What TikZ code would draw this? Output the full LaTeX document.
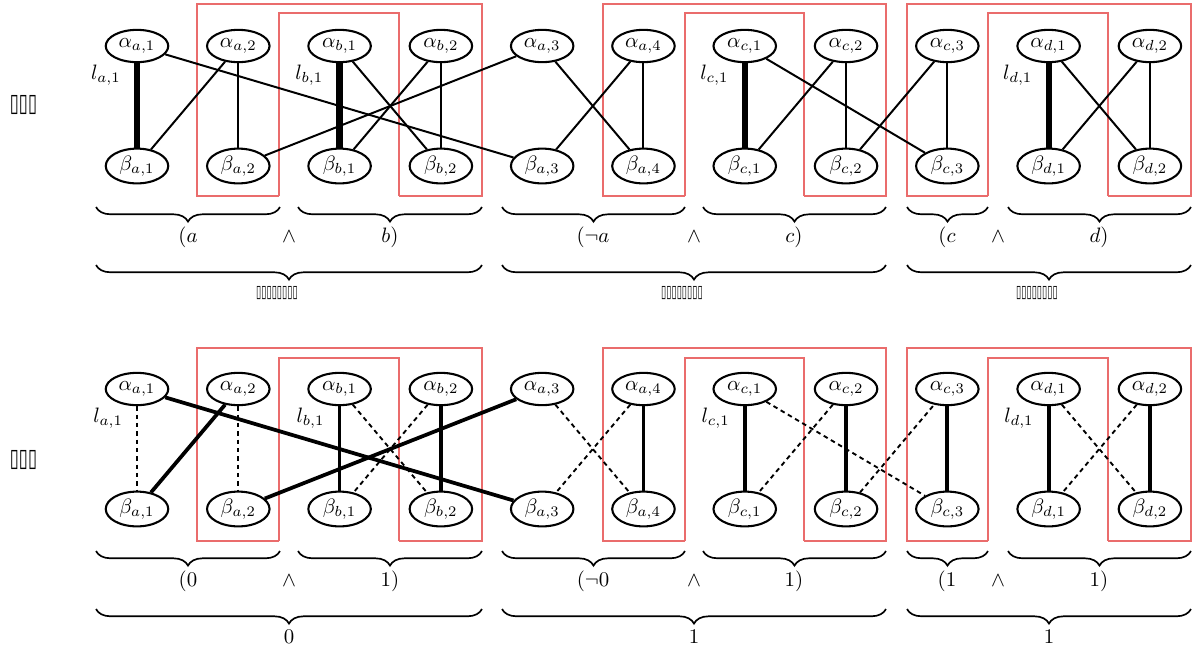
\documentclass[tikz,border=0pt]{standalone}
\usepackage{fontspec}
\usepackage{graphicx}
\usepackage{tikz}
\usetikzlibrary{positioning}
\usetikzlibrary{shapes.geometric,decorations.pathreplacing}
\newfontfamily\tofufont{DejaVu Sans}
\definecolor{gadget}{RGB}{234,108,108}
\tikzset{vertex/.style={draw,line width=1pt,ellipse,minimum width=30pt,minimum height=15.5pt,inner sep=1pt}}
\tikzset{litedge/.style={draw,line width=3pt}}
\tikzset{plain/.style={draw,line width=0.95pt}}
\tikzset{chosen/.style={draw,line width=1.8pt}}
\tikzset{unchosen/.style={draw,line width=0.9pt,dash pattern=on 2.2pt off 1.8pt}}
\tikzset{litlabel/.style={left=3pt,pos=0.14}}
\tikzset{gadgetbox/.style={draw=gadget,line width=1pt}}
\tikzset{brace/.style={draw,thick,decorate,decoration={brace,mirror,amplitude=7pt}}}
\tikzset{bracelabel/.style={anchor=base,inner sep=0pt}}
\begin{document}
\begin{tikzpicture}[x=0.48pt,y=-0.48pt,on grid,node distance=57.6pt and 48.62pt]
    \useasboundingbox (0,0) rectangle (1193,647);

    % row tags
    \node[font=\tofufont] (tag-top) at (23.5,105) {\resizebox{13pt}{7.7pt}{▯▯▯}};
    \node[font=\tofufont] (tag-bot) at (23.5,460) {\resizebox{13pt}{7.7pt}{▯▯▯}};

    % gadget frames, upper row
    \draw[gadgetbox] (279,196) -- (197,196) -- (197,4) -- (482,4) -- (482,196) -- (399,196);
    \draw[gadgetbox] (279,196) -- (279,13) -- (399,13) -- (399,196);
    \draw[gadgetbox] (685,196) -- (603,196) -- (603,4) -- (886,4) -- (886,196) -- (804,196);
    \draw[gadgetbox] (685,196) -- (685,13) -- (804,13) -- (804,196);
    \draw[gadgetbox] (988,196) -- (907,196) -- (907,4) -- (1191,4) -- (1191,196) -- (1108,196);
    \draw[gadgetbox] (988,196) -- (988,13) -- (1108,13) -- (1108,196);
    % gadget frames, lower row
    \draw[gadgetbox] (279,541) -- (197,541) -- (197,348) -- (482,348) -- (482,541) -- (399,541);
    \draw[gadgetbox] (279,541) -- (279,358) -- (399,358) -- (399,541);
    \draw[gadgetbox] (685,541) -- (603,541) -- (603,348) -- (886,348) -- (886,541) -- (804,541);
    \draw[gadgetbox] (685,541) -- (685,358) -- (804,358) -- (804,541);
    \draw[gadgetbox] (988,541) -- (907,541) -- (907,348) -- (1191,348) -- (1191,541) -- (1108,541);
    \draw[gadgetbox] (988,541) -- (988,358) -- (1108,358) -- (1108,541);

    % upper row
    \node[vertex] (ta-a1) at (137,46) {$\alpha_{a,1}$};
    \node[vertex,right=of ta-a1] (ta-a2) {$\alpha_{a,2}$};
    \node[vertex,right=of ta-a2] (ta-b1) {$\alpha_{b,1}$};
    \node[vertex,right=of ta-b1] (ta-b2) {$\alpha_{b,2}$};
    \node[vertex,right=of ta-b2] (ta-a3) {$\alpha_{a,3}$};
    \node[vertex,right=of ta-a3] (ta-a4) {$\alpha_{a,4}$};
    \node[vertex,right=of ta-a4] (ta-c1) {$\alpha_{c,1}$};
    \node[vertex,right=of ta-c1] (ta-c2) {$\alpha_{c,2}$};
    \node[vertex,right=of ta-c2] (ta-c3) {$\alpha_{c,3}$};
    \node[vertex,right=of ta-c3] (ta-d1) {$\alpha_{d,1}$};
    \node[vertex,right=of ta-d1] (ta-d2) {$\alpha_{d,2}$};
    \node[vertex,below=of ta-a1] (tb-a1) {$\beta_{a,1}$};
    \node[vertex,below=of ta-a2] (tb-a2) {$\beta_{a,2}$};
    \node[vertex,below=of ta-b1] (tb-b1) {$\beta_{b,1}$};
    \node[vertex,below=of ta-b2] (tb-b2) {$\beta_{b,2}$};
    \node[vertex,below=of ta-a3] (tb-a3) {$\beta_{a,3}$};
    \node[vertex,below=of ta-a4] (tb-a4) {$\beta_{a,4}$};
    \node[vertex,below=of ta-c1] (tb-c1) {$\beta_{c,1}$};
    \node[vertex,below=of ta-c2] (tb-c2) {$\beta_{c,2}$};
    \node[vertex,below=of ta-c3] (tb-c3) {$\beta_{c,3}$};
    \node[vertex,below=of ta-d1] (tb-d1) {$\beta_{d,1}$};
    \node[vertex,below=of ta-d2] (tb-d2) {$\beta_{d,2}$};

    \path[litedge] (ta-a1) -- node[litlabel] (tl-a1) {$l_{a,1}$} (tb-a1);
    \path[plain] (ta-a2) -- (tb-a1);
    \path[plain] (ta-a2) -- (tb-a2);
    \path[plain] (ta-a1) -- (tb-a3);
    \path[plain] (tb-a2) -- (ta-a3);
    \path[litedge] (ta-b1) -- node[litlabel] (tl-b1) {$l_{b,1}$} (tb-b1);
    \path[plain] (ta-b1) -- (tb-b2);
    \path[plain] (ta-b2) -- (tb-b1);
    \path[plain] (ta-b2) -- (tb-b2);
    \path[plain] (ta-a3) -- (tb-a4);
    \path[plain] (ta-a4) -- (tb-a3);
    \path[plain] (ta-a4) -- (tb-a4);
    \path[litedge] (ta-c1) -- node[litlabel] (tl-c1) {$l_{c,1}$} (tb-c1);
    \path[plain] (ta-c2) -- (tb-c1);
    \path[plain] (ta-c2) -- (tb-c2);
    \path[plain] (ta-c1) -- (tb-c3);
    \path[plain] (tb-c2) -- (ta-c3);
    \path[plain] (ta-c3) -- (tb-c3);
    \path[litedge] (ta-d1) -- node[litlabel] (tl-d1) {$l_{d,1}$} (tb-d1);
    \path[plain] (ta-d1) -- (tb-d2);
    \path[plain] (ta-d2) -- (tb-d1);
    \path[plain] (ta-d2) -- (tb-d2);

    % upper braces
    \draw[brace] (96,207) -- (280,207);
    \draw[brace] (298,207) -- (482,207);
    \draw[brace] (502,207) -- (685,207);
    \draw[brace] (703,207) -- (886,207);
    \draw[brace] (907,207) -- (988,207);
    \draw[brace] (1008,207) -- (1191,207);
    \node[bracelabel] (tx-1) at (188,242) {$(a$};
    \node[bracelabel] (tx-2) at (289,242) {$\wedge$};
    \node[bracelabel] (tx-3) at (390,242) {$b)$};
    \node[bracelabel] (tx-4) at (593,242) {$(\neg a$};
    \node[bracelabel] (tx-5) at (694,242) {$\wedge$};
    \node[bracelabel] (tx-6) at (794,242) {$c)$};
    \node[bracelabel] (tx-7) at (947,242) {$(c$};
    \node[bracelabel] (tx-8) at (998,242) {$\wedge$};
    \node[bracelabel] (tx-9) at (1099,242) {$d)$};
    \draw[brace] (96,265) -- (482,265);
    \draw[brace] (502,265) -- (886,265);
    \draw[brace] (907,265) -- (1191,265);
    \node[font=\tofufont,inner sep=0pt] (tc-1) at (277,293) {\resizebox{20pt}{5.3pt}{▯▯▯▯▯▯▯▯}};
    \node[font=\tofufont,inner sep=0pt] (tc-2) at (682,293) {\resizebox{20pt}{5.3pt}{▯▯▯▯▯▯▯▯}};
    \node[font=\tofufont,inner sep=0pt] (tc-3) at (1037,293) {\resizebox{20pt}{5.3pt}{▯▯▯▯▯▯▯▯}};

    % lower row
    \node[vertex] (sa-a1) at (137,389) {$\alpha_{a,1}$};
    \node[vertex,right=of sa-a1] (sa-a2) {$\alpha_{a,2}$};
    \node[vertex,right=of sa-a2] (sa-b1) {$\alpha_{b,1}$};
    \node[vertex,right=of sa-b1] (sa-b2) {$\alpha_{b,2}$};
    \node[vertex,right=of sa-b2] (sa-a3) {$\alpha_{a,3}$};
    \node[vertex,right=of sa-a3] (sa-a4) {$\alpha_{a,4}$};
    \node[vertex,right=of sa-a4] (sa-c1) {$\alpha_{c,1}$};
    \node[vertex,right=of sa-c1] (sa-c2) {$\alpha_{c,2}$};
    \node[vertex,right=of sa-c2] (sa-c3) {$\alpha_{c,3}$};
    \node[vertex,right=of sa-c3] (sa-d1) {$\alpha_{d,1}$};
    \node[vertex,right=of sa-d1] (sa-d2) {$\alpha_{d,2}$};
    \node[vertex,below=of sa-a1] (sb-a1) {$\beta_{a,1}$};
    \node[vertex,below=of sa-a2] (sb-a2) {$\beta_{a,2}$};
    \node[vertex,below=of sa-b1] (sb-b1) {$\beta_{b,1}$};
    \node[vertex,below=of sa-b2] (sb-b2) {$\beta_{b,2}$};
    \node[vertex,below=of sa-a3] (sb-a3) {$\beta_{a,3}$};
    \node[vertex,below=of sa-a4] (sb-a4) {$\beta_{a,4}$};
    \node[vertex,below=of sa-c1] (sb-c1) {$\beta_{c,1}$};
    \node[vertex,below=of sa-c2] (sb-c2) {$\beta_{c,2}$};
    \node[vertex,below=of sa-c3] (sb-c3) {$\beta_{c,3}$};
    \node[vertex,below=of sa-d1] (sb-d1) {$\beta_{d,1}$};
    \node[vertex,below=of sa-d2] (sb-d2) {$\beta_{d,2}$};

    \path[unchosen] (sa-a1) -- node[litlabel] (sl-a1) {$l_{a,1}$} (sb-a1);
    \path[chosen] (sa-a2) -- (sb-a1);
    \path[unchosen] (sa-a2) -- (sb-a2);
    \path[chosen] (sa-a1) -- (sb-a3);
    \path[chosen] (sb-a2) -- (sa-a3);
    \path[chosen] (sa-b1) -- node[litlabel] (sl-b1) {$l_{b,1}$} (sb-b1);
    \path[unchosen] (sa-b1) -- (sb-b2);
    \path[unchosen] (sa-b2) -- (sb-b1);
    \path[chosen] (sa-b2) -- (sb-b2);
    \path[unchosen] (sa-a3) -- (sb-a4);
    \path[unchosen] (sa-a4) -- (sb-a3);
    \path[chosen] (sa-a4) -- (sb-a4);
    \path[chosen] (sa-c1) -- node[litlabel] (sl-c1) {$l_{c,1}$} (sb-c1);
    \path[unchosen] (sa-c2) -- (sb-c1);
    \path[chosen] (sa-c2) -- (sb-c2);
    \path[unchosen] (sa-c1) -- (sb-c3);
    \path[unchosen] (sb-c2) -- (sa-c3);
    \path[chosen] (sa-c3) -- (sb-c3);
    \path[chosen] (sa-d1) -- node[litlabel] (sl-d1) {$l_{d,1}$} (sb-d1);
    \path[unchosen] (sa-d1) -- (sb-d2);
    \path[unchosen] (sa-d2) -- (sb-d1);
    \path[chosen] (sa-d2) -- (sb-d2);

    % lower braces
    \draw[brace] (96,551) -- (280,551);
    \draw[brace] (298,551) -- (482,551);
    \draw[brace] (502,551) -- (685,551);
    \draw[brace] (703,551) -- (886,551);
    \draw[brace] (907,551) -- (988,551);
    \draw[brace] (1008,551) -- (1191,551);
    \node[bracelabel] (sx-1) at (188,586) {$(0$};
    \node[bracelabel] (sx-2) at (289,586) {$\wedge$};
    \node[bracelabel] (sx-3) at (390,586) {$1)$};
    \node[bracelabel] (sx-4) at (593,586) {$(\neg 0$};
    \node[bracelabel] (sx-5) at (694,586) {$\wedge$};
    \node[bracelabel] (sx-6) at (794,586) {$1)$};
    \node[bracelabel] (sx-7) at (947,586) {$(1$};
    \node[bracelabel] (sx-8) at (998,586) {$\wedge$};
    \node[bracelabel] (sx-9) at (1099,586) {$1)$};
    \draw[brace] (96,609) -- (482,609);
    \draw[brace] (502,609) -- (886,609);
    \draw[brace] (907,609) -- (1191,609);
    \node[bracelabel] (sc-1) at (289,643) {$0$};
    \node[bracelabel] (sc-2) at (694,643) {$1$};
    \node[bracelabel] (sc-3) at (1049,643) {$1$};
\end{tikzpicture}
\end{document}
